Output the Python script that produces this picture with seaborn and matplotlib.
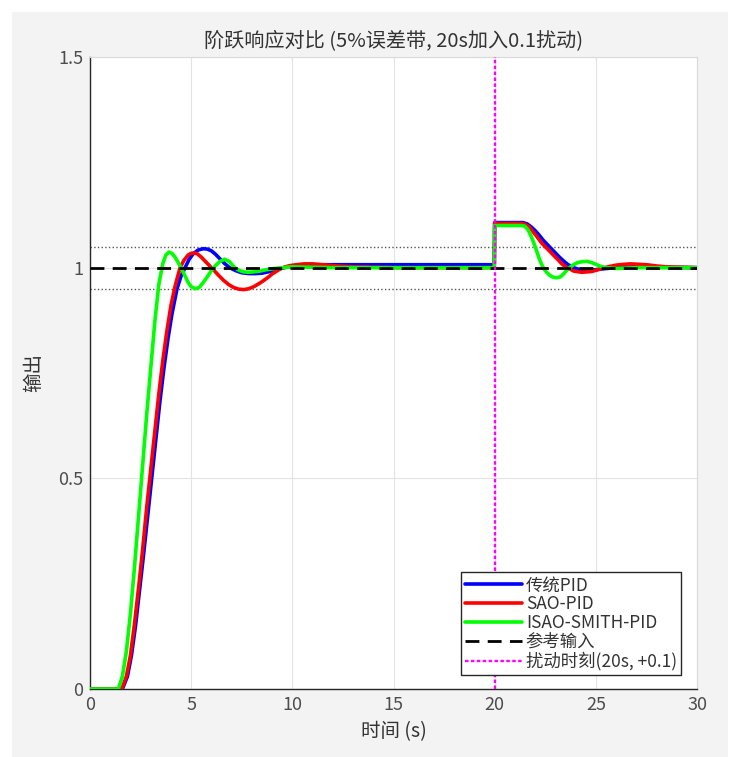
import numpy as np
import pandas as pd
import seaborn as sns
import matplotlib.pyplot as plt
from matplotlib.patches import Rectangle

# 传统PID
t_pid = [0, 1.6, 1.85, 2.05, 2.25, 2.45, 2.65, 2.85, 3.05, 3.25, 3.45, 3.65, 3.85, 4.05, 4.3, 4.5, 4.7,
         4.9, 5.1, 5.35, 5.6, 5.8, 6.0, 6.2, 6.4, 6.65, 6.9, 7.2, 7.5, 7.85, 8.2, 8.5, 8.8, 9.1, 9.4, 9.7, 10.0,
         10.5, 11, 13, 19.98,
         20.0, 21.4, 21.6, 21.8, 22.0, 22.2, 22.4, 22.6, 22.8, 23.0, 23.2, 23.4, 23.6, 23.9, 24.3, 24.8,
         25.3, 26, 27, 28, 30]
y_pid = [0, 0, 0.03, 0.08, 0.15, 0.235, 0.32, 0.41, 0.50, 0.59, 0.68, 0.76, 0.83, 0.89, 0.95, 0.98, 1.0,
         1.02, 1.033, 1.042, 1.045, 1.044, 1.04, 1.032, 1.022, 1.01, 1.0, 0.993, 0.988, 0.986, 0.986, 0.987, 0.99,
         0.994, 0.998, 1.001, 1.004, 1.006, 1.007, 1.007, 1.007,
         1.107, 1.107, 1.104, 1.097, 1.088, 1.077, 1.065, 1.055, 1.045, 1.035, 1.025, 1.016, 1.008, 1.0, 0.994, 0.994,
         0.997, 1.0, 1.002, 1.001, 1.0]

# SAO-PID
t_sao = [0, 1.57, 1.8, 2.0, 2.2, 2.4, 2.6, 2.8, 3.0, 3.2, 3.4, 3.6, 3.8, 4.0, 4.2, 4.45,
         4.65, 4.85, 5.0, 5.15, 5.3, 5.5, 5.8, 6.1, 6.35, 6.6, 6.85, 7.1, 7.35, 7.6, 7.85, 8.1, 8.35, 8.6,
         8.8, 9.0, 9.2, 9.4, 9.65, 9.9, 10.2, 10.6, 11.0, 11.5, 12.2, 13, 15, 19.98,
         20.0, 21.35, 21.5, 21.7, 21.9, 22.1, 22.3, 22.45, 22.6, 22.8, 23.0, 23.15, 23.3, 23.45, 23.6, 23.9,
         24.3, 24.8, 25.3, 25.6, 26.0, 26.4, 26.7, 27.1, 27.5, 28.0, 28.5, 30]
y_sao = [0, 0, 0.03, 0.08, 0.155, 0.24, 0.33, 0.43, 0.52, 0.61, 0.70, 0.78, 0.85, 0.91, 0.955, 1.0,
         1.018, 1.03, 1.034, 1.035, 1.033, 1.025, 1.01, 0.995, 0.982, 0.97, 0.96, 0.953, 0.949, 0.948, 0.95, 0.955,
         0.962, 0.97, 0.977, 0.985, 0.991, 0.997, 1.002, 1.005, 1.007, 1.009, 1.009, 1.007, 1.004, 1.002, 1.0, 1.0,
         1.105, 1.105, 1.103, 1.097, 1.085, 1.073, 1.06, 1.052, 1.045, 1.035, 1.025, 1.018, 1.01, 1.004, 1.0, 0.992,
         0.989, 0.991, 0.998, 1.002, 1.006, 1.008, 1.009, 1.008, 1.007, 1.004, 1.002, 1.0]

# ISAO-SMITH-PID
t_isao = [0, 1.4, 1.6, 1.8, 2.0, 2.2, 2.4, 2.6, 2.8, 3.0, 3.2, 3.4, 3.6, 3.75, 3.9, 4.05, 4.2, 4.35, 4.5,
          4.7, 4.85, 5.0, 5.2, 5.4, 5.6, 5.85, 6.1, 6.4, 6.65, 6.9, 7.15, 7.4, 7.6, 7.85, 8.1, 8.4, 8.7,
          9.1, 9.5, 10, 12, 19.98,
          20.0, 21.35, 21.5, 21.65, 21.8, 21.9, 22.0, 22.1, 22.2, 22.3, 22.4, 22.55, 22.7, 22.85, 23.05, 23.25,
          23.4, 23.55, 23.7, 23.9, 24.1, 24.3, 24.55, 24.8, 25.0, 25.25, 25.5, 26.0, 27, 30]
y_isao = [0, 0, 0.03, 0.09, 0.18, 0.29, 0.41, 0.53, 0.65, 0.76, 0.87, 0.96, 1.01, 1.03, 1.037, 1.034, 1.025, 1.013, 1.0,
          0.98, 0.965, 0.955, 0.95, 0.953, 0.965, 0.982, 1.0, 1.014, 1.02, 1.014, 1.0, 0.993, 0.99, 0.989, 0.99, 0.992, 0.995,
          0.998, 1.0, 1.002, 1.0, 1.0,
          1.1, 1.1, 1.098, 1.09, 1.075, 1.063, 1.05, 1.036, 1.022, 1.01, 1.0, 0.99, 0.983, 0.978, 0.976, 0.978,
          0.985, 0.993, 1.0, 1.007, 1.012, 1.014, 1.015, 1.012, 1.008, 1.003, 1.0, 0.998, 1.0, 1.0]

series_names = ['传统PID', 'SAO-PID', 'ISAO-SMITH-PID']
series_colors = ['#0000ff', '#ff0000', '#00ff00']

ref_value = 1.0
band = 0.05
t_disturb = 20
x_ticks = [0, 5, 10, 15, 20, 25, 30]
y_ticks = [0, 0.5, 1, 1.5]
y_ticklabels = ['0', '0.5', '1', '1.5']

df = pd.concat([
    pd.DataFrame({'t': t_pid, 'y': y_pid, 'ctrl': series_names[0]}),
    pd.DataFrame({'t': t_sao, 'y': y_sao, 'ctrl': series_names[1]}),
    pd.DataFrame({'t': t_isao, 'y': y_isao, 'ctrl': series_names[2]}),
])

sns.set_style('whitegrid')
plt.rcParams['font.family'] = ['Noto Sans CJK SC', 'DejaVu Sans']

fig = plt.figure(figsize=(7.36, 7.57), dpi=100, facecolor='white')
fig.patches.append(Rectangle((12 / 736, 0), 716 / 736, 745 / 757, transform=fig.transFigure,
                             facecolor='#f3f3f3', edgecolor='none', zorder=-10))
ax = fig.add_axes([90 / 736, 68 / 757, 607 / 736, 632 / 757])
ax.set_facecolor('white')

# 误差带
ax.axhline(ref_value + band, color='#555555', ls=':', lw=1, zorder=1)
ax.axhline(ref_value - band, color='#555555', ls=':', lw=1, zorder=1)

sns.lineplot(data=df, x='t', y='y', hue='ctrl', palette=dict(zip(series_names, series_colors)),
             estimator=None, sort=False, lw=2.6, ax=ax, legend=False, zorder=3)
ax.axhline(ref_value, color='black', ls=(0, (5, 3)), lw=2, zorder=4)
ax.axvline(t_disturb, color='#ff00ff', ls=(0, (1.5, 1)), lw=1.7, zorder=5)

handles = [plt.Line2D([], [], color=c, lw=2.6) for c in series_colors]
handles += [plt.Line2D([], [], color='black', ls=(0, (5, 3)), lw=2),
            plt.Line2D([], [], color='#ff00ff', ls=(0, (1.5, 1)), lw=1.7)]
labels = series_names + ['参考输入', '扰动时刻(20s, +0.1)']
leg = ax.legend(handles, labels, loc='lower right', bbox_to_anchor=(0.974, 0.022), fontsize=12.5,
                frameon=True, fancybox=False, framealpha=1, edgecolor='#262626',
                handlelength=3.3, handletextpad=0.2, labelspacing=0.05, borderpad=0.25,
                borderaxespad=0)
leg.get_frame().set_linewidth(1)
for txt in leg.get_texts():
    txt.set_color('#333333')

ax.set_xlim(0, 30)
ax.set_ylim(0, 1.5)
ax.set_xticks(x_ticks)
ax.set_yticks(y_ticks)
ax.set_yticklabels(y_ticklabels)
ax.tick_params(direction='in', length=4, width=0.8, colors='#262626', labelcolor='#4d4d4d',
               labelsize=13, pad=5)
ax.grid(True, color='#e3e3e3', lw=0.8)
for side in ['left', 'bottom']:
    ax.spines[side].set_color('#262626')
    ax.spines[side].set_linewidth(1)
for side in ['top', 'right']:
    ax.spines[side].set_color('#d9d9d9')
    ax.spines[side].set_linewidth(0.8)

ax.set_title('阶跃响应对比 (5%误差带, 20s加入0.1扰动)', fontsize=14.5, color='#333333', pad=8)
ax.set_xlabel('时间 (s)', fontsize=14, color='#333333', labelpad=5)
ax.set_ylabel('输出', fontsize=14, color='#333333', labelpad=10)

fig.savefig('out.png', dpi=100, facecolor=fig.get_facecolor())
